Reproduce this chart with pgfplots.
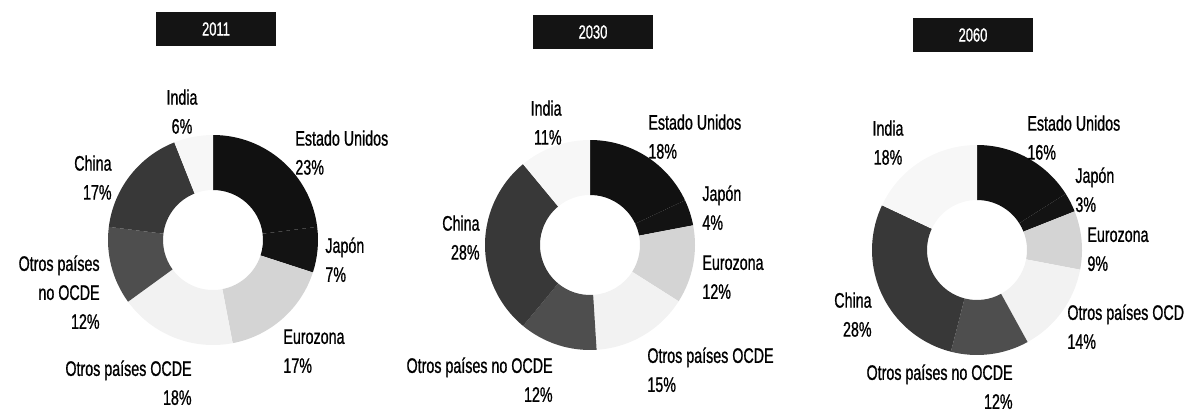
\documentclass[border=0pt]{standalone}
\usepackage{fontspec}
\setmainfont{Liberation Sans}[FakeStretch=0.68,FakeBold=0.9]
\usepackage{pgfplots}
\usepackage{pgfplotstable}
\pgfplotsset{compat=1.18}

\definecolor{cUS}{HTML}{111111}
\definecolor{cJP}{HTML}{131313}
\definecolor{cEU}{HTML}{D4D4D4}
\definecolor{cOC}{HTML}{F2F2F2}
\definecolor{cNO}{HTML}{4E4E4E}
\definecolor{cCN}{HTML}{383838}
\definecolor{cIN}{HTML}{F7F7F7}

\pgfplotstableread{
name pct col
US 23 cUS
JP 7 cJP
EU 17 cEU
OC 18 cOC
NO 12 cNO
CN 17 cCN
IN 6 cIN
}\dataA
\pgfplotstableread{
name pct col
US 18 cUS
JP 4 cJP
EU 12 cEU
OC 15 cOC
NO 12 cNO
CN 28 cCN
IN 11 cIN
}\dataB
\pgfplotstableread{
name pct col
US 16 cUS
JP 3 cJP
EU 9 cEU
OC 14 cOC
NO 12 cNO
CN 28 cCN
IN 18 cIN
}\dataC

\def\Ro{52.5pt}
\def\Ri{25pt}
\newcommand{\donut}[3]{%
  \pgfmathsetmacro\cum{0}%
  \pgfplotstablegetrowsof{#1}%
  \pgfmathtruncatemacro\nrows{\pgfplotsretval-1}%
  \pgfplotsforeachungrouped \i in {0,...,\nrows}{%
    \pgfplotstablegetelem{\i}{pct}\of{#1}\let\dval\pgfplotsretval
    \pgfplotstablegetelem{\i}{col}\of{#1}\let\dcol\pgfplotsretval
    \pgfmathsetmacro\ta{90-3.6*\cum}%
    \pgfmathsetmacro\cum{\cum+\dval}%
    \pgfmathsetmacro\tb{90-3.6*\cum}%
    \edef\temp{\noexpand\fill[\dcol] (axis cs:#2,#3) ++(\ta:\Ro) arc[start angle=\ta,end angle=\tb,radius=\Ro] -- ++(\tb+180:\Ro-\Ri) arc[start angle=\tb,end angle=\ta,radius=\Ri] -- cycle;}%
    \temp
  }%
}

\tikzset{
  lab/.style={font=\fontsize{10.5}{14.5}\selectfont, inner sep=0pt, text=black},
  ttl/.style={fill=black!92, text=white, minimum width=60pt, minimum height=17pt, inner sep=0pt, font=\fontsize{9.5}{10}\selectfont},
}

\begin{document}
\begin{tikzpicture}
\useasboundingbox (0,0) rectangle (601.5pt,207pt);
\begin{axis}[x=0.5pt,y=0.5pt,xmin=0,xmax=1203,ymin=0,ymax=414,hide axis,clip=false]
\donut{\dataA}{213}{174}
\donut{\dataB}{590}{169}
\donut{\dataC}{977}{164}

% titles
\node[ttl] at (axis cs:216,385) {2011};
\node[ttl] at (axis cs:593,382) {2030};
\node[ttl] at (axis cs:973,379) {2060};

% 2011 labels
\node[lab,anchor=north,align=center] at (axis cs:182,325) {India\\6\%};
\node[lab,anchor=north west,align=left] at (axis cs:295,284) {Estado Unidos\\23\%};
\node[lab,anchor=north west,align=left] at (axis cs:325,177) {Japón\\7\%};
\node[lab,anchor=north west,align=left] at (axis cs:283,85) {Eurozona\\17\%};
\node[lab,anchor=north east,align=right] at (axis cs:192,54) {Otros países OCDE\\18\%};
\node[lab,anchor=north east,align=right] at (axis cs:100,159) {Otros países\\no OCDE\\12\%};
\node[lab,anchor=north east,align=right] at (axis cs:112,259) {China\\17\%};

% 2030 labels
\node[lab,anchor=north east,align=right] at (axis cs:562,314) {India\\11\%};
\node[lab,anchor=north west,align=left] at (axis cs:648,300) {Estado Unidos\\18\%};
\node[lab,anchor=north west,align=left] at (axis cs:702,229) {Japón\\4\%};
\node[lab,anchor=north west,align=left] at (axis cs:702,159) {Eurozona\\12\%};
\node[lab,anchor=north west,align=left] at (axis cs:647,67) {Otros países OCDE\\15\%};
\node[lab,anchor=north east,align=right] at (axis cs:553,57) {Otros países no OCDE\\12\%};
\node[lab,anchor=north east,align=right] at (axis cs:480,199) {China\\28\%};

% 2060 labels
\node[lab,anchor=north,align=center] at (axis cs:888,294) {India\\18\%};
\node[lab,anchor=north west,align=left] at (axis cs:1027,299) {Estado Unidos\\16\%};
\node[lab,anchor=north west,align=left] at (axis cs:1075,247) {Japón\\3\%};
\node[lab,anchor=north west,align=left] at (axis cs:1087,187) {Eurozona\\9\%};
\node[lab,anchor=north west,align=left] at (axis cs:1067,110) {Otros países OCD\\14\%};
\node[lab,anchor=north east,align=right] at (axis cs:1013,50) {Otros países no OCDE\\12\%};
\node[lab,anchor=north east,align=right] at (axis cs:872,122) {China\\28\%};
\end{axis}
\end{tikzpicture}
\end{document}
